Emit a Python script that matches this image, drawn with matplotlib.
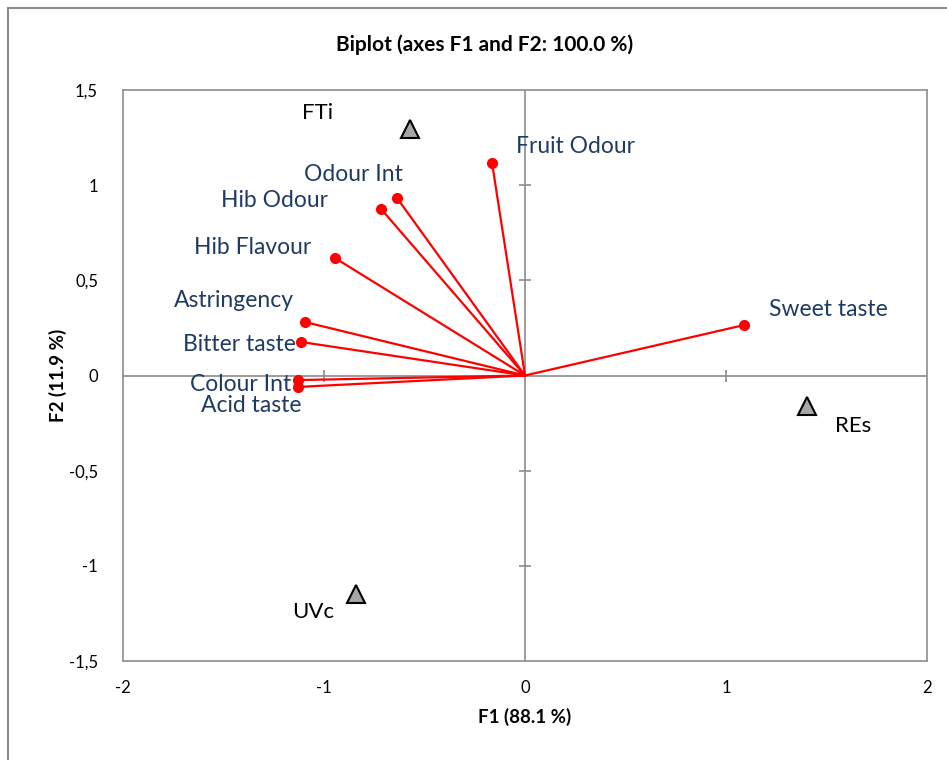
import matplotlib
matplotlib.use("Agg")
import matplotlib.pyplot as plt
from matplotlib.patches import Rectangle

plt.rcParams['font.family'] = ['Lato', 'DejaVu Sans']

# Variables (vectors)
var_names = ["Fruit Odour", "Odour Int", "Hib Odour", "Hib Flavour", "Astringency",
             "Bitter taste", "Colour Int", "Acid taste", "Sweet taste"]
var_f1 = [-0.164, -0.637, -0.716, -0.945, -1.095, -1.114, -1.129, -1.129, 1.090]
var_f2 = [1.117, 0.933, 0.875, 0.617, 0.281, 0.176, -0.024, -0.060, 0.265]

# Observations
obs_names = ["FTi", "REs", "UVc"]
obs_f1 = [-0.572, 1.403, -0.841]
obs_f2 = [1.295, -0.160, -1.148]

xticks = [-2, -1, 0, 1, 2]
xtick_labels = ["-2", "-1", "0", "1", "2"]
yticks = [-1.5, -1, -0.5, 0, 0.5, 1, 1.5]
ytick_labels = ["-1,5", "-1", "-0,5", "0", "0,5", "1", "1,5"]

# label offsets in pixels
var_offsets = [(83, 16), (-44, 23), (-107, 8), (-82, 11), (-71, 22),
               (-62, -2), (-57, -4), (-47, -19), (84, 16)]
obs_offsets = [(-92, 16), (46, -20), (-43, -18)]

W, H = 947, 760
fig = plt.figure(figsize=(W / 100, H / 100), dpi=100)
ax = fig.add_axes([123 / W, 1 - 661 / H, (927 - 123) / W, (661 - 90) / H])

gray = '#8c8c8c'
ax.set_xlim(-2, 2)
ax.set_ylim(-1.5, 1.5)
for s in ax.spines.values():
    s.set_color(gray)
    s.set_linewidth(1.2)

ax.axhline(0, color=gray, lw=1.2, zorder=1)
ax.axvline(0, color=gray, lw=1.2, zorder=1)
# small cross ticks on the centre axes
for xv in xticks:
    if xv not in (-2, 0, 2):
        ax.plot([xv], [0], marker='|', color=gray, ms=9, mew=1.2, zorder=1)
for yv in yticks:
    if yv not in (-1.5, 0, 1.5):
        ax.plot([0], [yv], marker='_', color=gray, ms=9, mew=1.2, zorder=1)

ax.set_xticks(xticks)
ax.set_xticklabels(xtick_labels)
ax.set_yticks(yticks)
ax.set_yticklabels(ytick_labels)
ax.tick_params(length=0, labelsize=12, pad=14, colors='black')
ax.tick_params(axis='y', pad=18)

red = '#ff0000'
for name, x, y, off in zip(var_names, var_f1, var_f2, var_offsets):
    ax.plot([0, x], [0, y], color=red, lw=1.6, zorder=3)
    ax.plot([x], [y], 'o', color=red, ms=7, zorder=4)
    ax.annotate(name, (x, y), xytext=off, textcoords='offset pixels',
                ha='center', va='center', fontsize=16.5, color='#1f3b64')

for name, x, y, off in zip(obs_names, obs_f1, obs_f2, obs_offsets):
    ax.plot([x], [y], '^', color='#a6a6a6', mec='black', mew=1.5, ms=13, zorder=5)
    ax.annotate(name, (x, y), xytext=off, textcoords='offset pixels',
                ha='center', va='center', fontsize=16, color='black')

fig.text(485 / W, 1 - 45 / H, "Biplot (axes F1 and F2: 100.0 %)", ha='center',
         va='center', fontsize=15, fontweight='bold')
fig.text(525 / W, 1 - 717 / H, "F1 (88.1 %)", ha='center', va='center',
         fontsize=13.5, fontweight='bold')
fig.text(58 / W, 1 - 375 / H, "F2 (11.9 %)", ha='center', va='center',
         fontsize=13.5, fontweight='bold', rotation=90)

fig.patches.append(Rectangle((8 / W, -0.1), 2, 1 - 8 / H + 0.1, transform=fig.transFigure,
                             fill=False, edgecolor=gray, lw=1.5))

fig.savefig("out.png", dpi=100)
